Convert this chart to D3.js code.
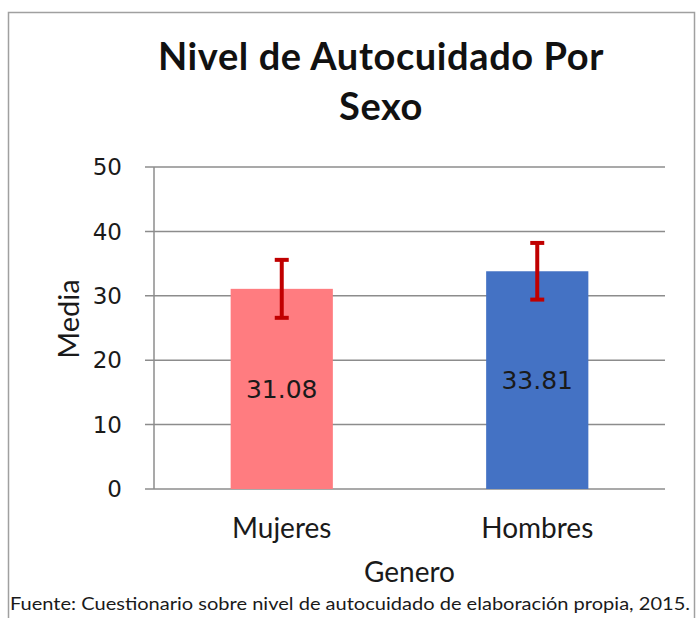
<!DOCTYPE html>
<html>
<head>
<meta charset="utf-8">
<script src="https://cdn.jsdelivr.net/npm/d3@7"></script>
<style>
  body { margin: 0; background: #fff; }
  svg { display: block; }
</style>
</head>
<body>
<div id="chart"></div>
<script>
// chart data
const categories = ["Mujeres", "Hombres"];
const means = [31.08, 33.81];
const errors = [4.5, 4.4];
const barColors = ["#FF7C80", "#4472C4"];
const yTicks = [0, 10, 20, 30, 40, 50];

const width = 697, height = 618;
const plot = { left: 154, right: 665, top: 167, bottom: 489 };

const svg = d3.select("#chart")
  .append("svg")
  .attr("width", width)
  .attr("height", height);

// outer frame
svg.append("rect")
  .attr("x", 8.5).attr("y", 12.5)
  .attr("width", 686).attr("height", 640)
  .attr("fill", "none")
  .attr("stroke", "#a0a0a0")
  .attr("stroke-width", 1.5);

const x = d3.scaleBand()
  .domain(categories)
  .range([plot.left, plot.right])
  .paddingInner(0.6)
  .paddingOuter(0.3);

const y = d3.scaleLinear()
  .domain([0, 50])
  .range([plot.bottom, plot.top]);

// gridlines
svg.append("g")
  .selectAll("line")
  .data(yTicks)
  .join("line")
  .attr("x1", plot.left - 9)
  .attr("x2", plot.right)
  .attr("y1", d => y(d))
  .attr("y2", d => y(d))
  .attr("stroke", "#8c8c8c")
  .attr("stroke-width", 1.5);

// y axis line
svg.append("line")
  .attr("x1", plot.left).attr("x2", plot.left)
  .attr("y1", plot.top).attr("y2", plot.bottom)
  .attr("stroke", "#8c8c8c")
  .attr("stroke-width", 1.5);

// y tick labels
svg.append("g")
  .selectAll("text")
  .data(yTicks)
  .join("text")
  .attr("x", plot.left - 32)
  .attr("y", d => y(d))
  .attr("dy", "0.36em")
  .attr("text-anchor", "end")
  .style("font", "23px 'DejaVu Sans', sans-serif")
  .attr("fill", "#1a1a1a")
  .text(d => d);

// bars
svg.append("g")
  .selectAll("rect")
  .data(categories)
  .join("rect")
  .attr("x", d => x(d))
  .attr("width", x.bandwidth())
  .attr("y", (d, i) => y(means[i]))
  .attr("height", (d, i) => y(0) - y(means[i]))
  .attr("fill", (d, i) => barColors[i]);

// error bars
const eb = svg.append("g")
  .attr("stroke", "#C00000")
  .attr("stroke-width", 4);

categories.forEach((c, i) => {
  const cx = x(c) + x.bandwidth() / 2;
  const hi = y(means[i] + errors[i]);
  const lo = y(means[i] - errors[i]);
  eb.append("line").attr("x1", cx).attr("x2", cx).attr("y1", hi).attr("y2", lo);
  eb.append("line").attr("x1", cx - 7).attr("x2", cx + 7).attr("y1", hi).attr("y2", hi);
  eb.append("line").attr("x1", cx - 7).attr("x2", cx + 7).attr("y1", lo).attr("y2", lo);
});

// value labels
svg.append("g")
  .selectAll("text")
  .data(categories)
  .join("text")
  .attr("x", d => x(d) + x.bandwidth() / 2)
  .attr("y", (d, i) => (y(means[i]) + y(0)) / 2)
  .attr("dy", "0.36em")
  .attr("text-anchor", "middle")
  .style("font", "25px 'DejaVu Sans', sans-serif")
  .attr("fill", "#1a1a1a")
  .text((d, i) => means[i].toFixed(2));

// category labels
svg.append("g")
  .selectAll("text")
  .data(categories)
  .join("text")
  .attr("x", d => x(d) + x.bandwidth() / 2)
  .attr("y", 538)
  .attr("text-anchor", "middle")
  .style("font", "28px Lato, sans-serif")
  .attr("fill", "#1a1a1a")
  .text(d => d);

// axis titles
svg.append("text")
  .attr("x", (plot.left + plot.right) / 2)
  .attr("y", 582)
  .attr("text-anchor", "middle")
  .style("font", "28px Lato, sans-serif")
  .attr("fill", "#1a1a1a")
  .text("Genero");

svg.append("text")
  .attr("transform", "translate(79,319) rotate(-90)")
  .attr("text-anchor", "middle")
  .style("font", "29px Lato, sans-serif")
  .attr("fill", "#1a1a1a")
  .text("Media");

// title
const title = svg.append("text")
  .attr("text-anchor", "middle")
  .style("font", "bold 38px Lato, sans-serif")
  .style("letter-spacing", "0.6px")
  .attr("fill", "#111");
title.append("tspan").attr("x", 381).attr("y", 70).text("Nivel de Autocuidado Por");
title.append("tspan").attr("x", 381).attr("y", 120).text("Sexo");

// source note
svg.append("text")
  .attr("x", 10)
  .attr("y", 610)
  .attr("textLength", 680)
  .attr("lengthAdjust", "spacingAndGlyphs")
  .style("font", "17px Lato, sans-serif")
  .attr("fill", "#1a1a1a")
  .text("Fuente: Cuestionario sobre nivel de autocuidado de elaboración propia, 2015.");
</script>
</body>
</html>
